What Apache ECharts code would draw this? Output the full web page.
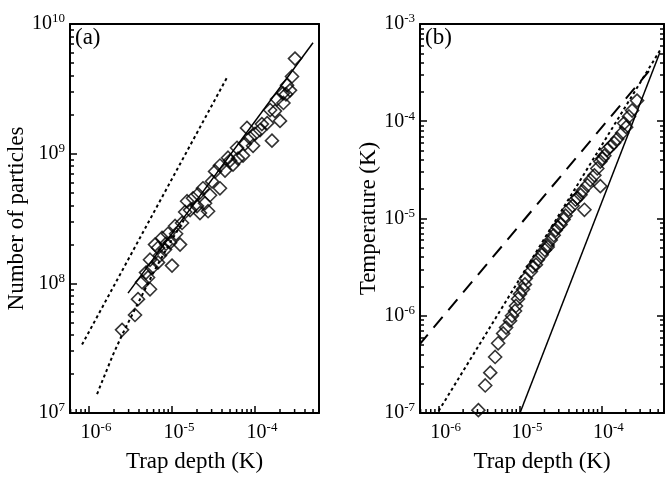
<!DOCTYPE html>
<html>
<head>
<meta charset="utf-8">
<script src="https://cdn.jsdelivr.net/npm/echarts@6/dist/echarts.min.js"></script>
<style>
html, body { margin: 0; padding: 0; background: #fff; }
#chart { width: 665px; height: 478px; }
</style>
</head>
<body>
<div id="chart"></div>
<script>
// panel (a): number of particles vs trap depth
var depthA = [2.50e-6, 3.58e-6, 3.89e-6, 4.35e-6, 5.43e-6, 5.14e-6, 5.74e-6, 6.78e-6, 7.16e-6,
  1.0e-5, 8.24e-6, 9.47e-6, 1.25e-5, 1.12e-5, 1.32e-5, 1.65e-5, 1.52e-5, 2.0e-5, 2.72e-5,
  2.87e-5, 3.3e-5, 3.78e-5, 5.0e-5, 3.78e-5, 4.73e-5, 5.43e-5, 6.07e-5, 7.17e-5, 8.0e-5,
  8.71e-5, 9.47e-5, 1.15e-4, 1.40e-4, 1.60e-4, 1.52e-4, 2.0e-4, 2.17e-4, 2.43e-4, 2.64e-4,
  2.79e-4, 3.03e-4, 1.84e-4, 2.2e-4, 6.24e-6, 7.58e-6, 2.17e-5, 2.5e-5,
  4.86e-6, 5.43e-6, 6.78e-6, 8.47e-6, 8.95e-6, 1.09e-5, 1.44e-5, 1.79e-5, 2.06e-5, 2.36e-5,
  3.03e-5, 4.35e-5, 6.24e-5, 7.58e-5, 1.0e-4, 1.21e-4, 1.74e-4, 2.36e-4];
var numA = [4.38e7, 5.70e7, 7.55e7, 1.02e8, 9.0e7, 1.11e8, 1.32e8, 1.45e8, 1.64e8,
  1.37e8, 1.82e8, 2.06e8, 1.99e8, 2.41e8, 2.92e8, 3.67e8, 4.30e8, 3.94e8, 3.6e8,
  4.78e8, 7.3e8, 5.41e8, 8.85e8, 8.1e8, 9.3e8, 8.24e8, 1.11e9, 9.66e8, 1.58e9,
  1.32e9, 1.15e9, 1.52e9, 1.72e9, 1.26e9, 2.17e9, 1.79e9, 2.92e9, 3.37e9, 3.08e9,
  3.94e9, 5.41e9, 2.63e9, 2.46e9, 1.99e8, 2.24e8, 3.48e8, 4.15e8,
  1.21e8, 1.52e8, 1.88e8, 2.02e8, 2.41e8, 2.77e8, 3.55e8, 4.53e8, 4.86e8, 5.41e8,
  6.11e8, 7.41e8, 9.16e8, 1.19e9, 1.42e9, 1.69e9, 2.13e9, 2.87e9];
var fitADepth = [2.95e-6, 5.0e-4];
var fitANum = [8.4e7, 7.16e9];
var curveADepth = [1.25e-6, 1.56e-6, 1.95e-6, 2.5e-6, 3.3e-6, 4.35e-6, 6.24e-6, 9.47e-6, 1.44e-5];
var curveANum = [1.40e7, 1.99e7, 2.82e7, 4.0e7, 5.7e7, 8.09e7, 1.28e8, 2.06e8, 3.19e8];
var steepADepth = [8.24e-7, 4.6e-5];
var steepANum = [3.37e7, 3.87e9];

// panel (b): temperature vs trap depth
var depthB = [3.08e-6, 3.74e-6, 4.31e-6, 4.95e-6, 5.39e-6, 6.21e-6, 6.75e-6, 7.55e-6, 7.98e-6,
  8.69e-6, 8.93e-6, 9.46e-6, 1.0e-5, 1.09e-5, 1.15e-5, 1.18e-5, 1.36e-5, 1.44e-5, 1.66e-5,
  2.02e-5, 2.39e-5, 2.75e-5, 3.16e-5, 3.64e-5, 4.43e-5, 5.09e-5, 6.2e-5, 5.86e-5, 6.75e-5,
  8.22e-5, 9.73e-5, 8.93e-5, 9.73e-5, 1.09e-4, 1.18e-4, 1.44e-4, 1.80e-4, 1.91e-4, 2.19e-4,
  2.39e-4, 2.75e-4, 2.19e-5,
  1.57e-5, 1.85e-5, 2.19e-5, 2.6e-5, 2.9e-5, 3.44e-5, 3.96e-5, 4.82e-5, 5.55e-5, 7.34e-5,
  1.03e-4, 1.29e-4, 1.57e-4, 2.02e-4];
var tempB = [1.07e-7, 1.92e-7, 2.6e-7, 3.77e-7, 5.21e-7, 6.58e-7, 7.56e-7, 8.9e-7, 1.0e-6,
  1.12e-6, 1.26e-6, 1.49e-6, 1.67e-6, 1.87e-6, 2.1e-6, 2.42e-6, 2.85e-6, 3.2e-6, 3.77e-6,
  4.75e-6, 6.0e-6, 7.57e-6, 8.7e-6, 1.07e-5, 1.35e-5, 1.63e-5, 1.23e-5, 1.92e-5, 2.2e-5,
  2.78e-5, 2.15e-5, 3.27e-5, 3.85e-5, 4.43e-5, 5.09e-5, 6.0e-5, 7.57e-5, 9.55e-5, 1.12e-4,
  1.29e-4, 1.63e-4, 5.33e-6,
  3.35e-6, 4.23e-6, 5.09e-6, 6.73e-6, 8.11e-6, 9.77e-6, 1.23e-5, 1.56e-5, 1.75e-5, 2.48e-5,
  4.13e-5, 5.46e-5, 6.58e-5, 8.69e-5];
var dashBDepth = [5.7e-7, 3.85e-4];
var dashBTemp = [4.97e-7, 3.27e-4];
var dotBDepth = [1.0e-6, 5.25e-4];
var dotBTemp = [1.05e-7, 5.33e-4];
var solidBDepth = [1.0e-5, 5.25e-4];
var solidBTemp = [1.0e-7, 5.1e-4];

// axis ranges
var depthMin = 5.9e-7, depthMax = 5.9e-4;
var numMin = 1e7, numMax = 1e10;
var tempMin = 1e-7, tempMax = 1e-3;

function zip(xs, ys) {
  return xs.map(function (x, i) { return [x, ys[i]]; });
}

// minor log ticks 2..9 x 10^d inside [lo, hi]
function minorLogTicks(lo, hi) {
  var out = [];
  for (var d = Math.floor(Math.log10(lo)); d <= Math.ceil(Math.log10(hi)); d++) {
    for (var k = 2; k <= 9; k++) {
      var v = k * Math.pow(10, d);
      if (v > lo && v < hi) out.push(v);
    }
  }
  return out;
}

var serif = 'Liberation Serif';

function powLabel(v) {
  var l = Math.log10(v);
  var e = Math.round(l);
  if (Math.abs(l - e) > 1e-6) return '';
  return '{b|10}{s|' + e + '}';
}

function axisLine() {
  return { show: true, lineStyle: { color: '#000', width: 2 } };
}
function majorTick() {
  return { show: true, inside: true, length: 7, lineStyle: { color: '#000', width: 1.5 } };
}
function minorTick() {
  return { show: true, splitNumber: 9, length: 4, lineStyle: { color: '#000', width: 1.5 } };
}

function xAxisOpt(idx) {
  return {
    type: 'log', logBase: 10, gridIndex: idx,
    min: depthMin, max: depthMax,
    name: 'Trap depth (K)', nameLocation: 'middle', nameGap: 37,
    nameTextStyle: { fontFamily: serif, fontSize: 23, color: '#000' },
    axisLine: axisLine(),
    axisTick: majorTick(),
    splitLine: { show: false },
    axisLabel: {
      margin: 8, formatter: powLabel, showMinLabel: false, showMaxLabel: false,
      rich: {
        b: { fontFamily: serif, fontSize: 20, color: '#000', padding: [0, 0, 0, 14] },
        s: { fontFamily: serif, fontSize: 13, color: '#000', padding: [0, 0, 10, 0] }
      }
    }
  };
}

function yAxisOpt(idx, min, max, name, gap) {
  return {
    type: 'log', logBase: 10, gridIndex: idx,
    min: min, max: max,
    name: name, nameLocation: 'middle', nameGap: gap,
    nameTextStyle: { fontFamily: serif, fontSize: 23, color: '#000' },
    axisLine: axisLine(),
    axisTick: majorTick(),
    minorTick: minorTick(),
    splitLine: { show: false },
    axisLabel: {
      margin: 5, formatter: powLabel,
      rich: {
        b: { fontFamily: serif, fontSize: 20, color: '#000' },
        s: { fontFamily: serif, fontSize: 13, color: '#000', padding: [0, 0, 10, 0] }
      }
    }
  };
}

// plain frame edges (top / right)
function frameX(idx) {
  return {
    type: 'log', gridIndex: idx, position: 'top', min: depthMin, max: depthMax,
    axisLine: axisLine(), axisTick: { show: false }, axisLabel: { show: false }, splitLine: { show: false }
  };
}
function frameY(idx, min, max, ticks) {
  return {
    type: 'log', gridIndex: idx, position: 'right', min: min, max: max,
    axisLine: axisLine(),
    axisTick: ticks ? majorTick() : { show: false },
    minorTick: ticks ? minorTick() : { show: false },
    axisLabel: { show: false }, splitLine: { show: false }
  };
}

var diamond = {
  type: 'scatter', symbol: 'diamond', symbolSize: 13,
  itemStyle: { color: 'rgba(0,0,0,0)', borderColor: '#000', borderWidth: 1.6 },
  z: 3
};

function lineSeries(idx, data, type, width) {
  return {
    type: 'line', xAxisIndex: idx, yAxisIndex: idx, data: data,
    showSymbol: false, symbol: 'none',
    lineStyle: { color: '#000', width: width, type: type }, z: 2
  };
}

// minor ticks on the depth axis, placed through the axis scale
function xMinorSeries(idx, yBottom) {
  return {
    type: 'custom', xAxisIndex: idx, yAxisIndex: idx,
    data: minorLogTicks(depthMin, depthMax).map(function (v) { return [v, yBottom]; }),
    renderItem: function (params, api) {
      var p = api.coord([api.value(0), api.value(1)]);
      return {
        type: 'line',
        shape: { x1: p[0], y1: p[1], x2: p[0], y2: p[1] - 4 },
        style: { stroke: '#000', lineWidth: 1.5 }
      };
    }
  };
}

var chart = echarts.init(document.getElementById('chart'));
chart.setOption({
  animation: false,
  backgroundColor: '#fff',
  grid: [
    { left: 70, top: 24, width: 249, height: 393 },
    { left: 420, top: 24, width: 244, height: 395 }
  ],
  xAxis: [xAxisOpt(0), xAxisOpt(1), frameX(0), frameX(1)],
  yAxis: [
    yAxisOpt(0, numMin, numMax, 'Number of particles', 42),
    yAxisOpt(1, tempMin, tempMax, 'Temperature (K)', 40),
    frameY(0, numMin, numMax, false),
    frameY(1, tempMin, tempMax, true)
  ],
  graphic: [
    { type: 'text', left: 75, top: 26, style: { text: '(a)', fontFamily: serif, fontSize: 23, fill: '#000' } },
    { type: 'text', left: 425, top: 26, style: { text: '(b)', fontFamily: serif, fontSize: 23, fill: '#000' } }
  ],
  series: [
    Object.assign({}, diamond, { xAxisIndex: 0, yAxisIndex: 0, data: zip(depthA, numA) }),
    lineSeries(0, zip(fitADepth, fitANum), 'solid', 1.5),
    lineSeries(0, zip(curveADepth, curveANum), [3, 3], 2),
    lineSeries(0, zip(steepADepth, steepANum), [3, 3], 2),
    Object.assign({}, diamond, { xAxisIndex: 1, yAxisIndex: 1, data: zip(depthB, tempB) }),
    lineSeries(1, zip(dashBDepth, dashBTemp), [14, 9], 2),
    lineSeries(1, zip(dotBDepth, dotBTemp), [3, 3], 2),
    lineSeries(1, zip(solidBDepth, solidBTemp), 'solid', 1.5),
    xMinorSeries(0, numMin),
    xMinorSeries(1, tempMin)
  ]
});
</script>
</body>
</html>
